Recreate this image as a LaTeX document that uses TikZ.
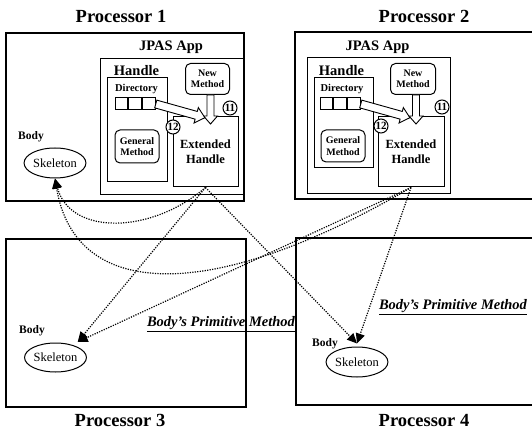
\documentclass[tikz,border=0pt]{standalone}
\usepackage{fontspec}
\setmainfont{Liberation Serif}
\usetikzlibrary{shapes.geometric, arrows.meta, positioning}

\begin{document}
\begin{tikzpicture}[x=1pt, y=-1pt,
    procbox/.style={rectangle, draw, line width=1.2pt, inner sep=0pt},
    box/.style={rectangle, draw, line width=1pt, inner sep=0pt},
    method/.style={rectangle, draw, rounded corners=5pt, line width=1pt, inner sep=0pt, align=center, font=\bfseries\fontsize{10}{11.5}\selectfont},
    cell/.style={rectangle, draw, line width=1pt, minimum width=12.7pt, minimum height=12pt, inner sep=0pt},
    skel/.style={ellipse, draw, line width=1pt, minimum width=59pt, minimum height=29pt, inner sep=0pt, font=\fontsize{12.5}{14}\selectfont},
    num/.style={circle, draw, fill=white, line width=1pt, minimum size=14pt, inner sep=0pt, font=\bfseries\fontsize{11}{11}\selectfont},
    proctitle/.style={font=\bfseries\fontsize{18.5}{20}\selectfont},
    apptitle/.style={font=\bfseries\fontsize{14.5}{16}\selectfont},
    handletxt/.style={font=\bfseries\fontsize{14.5}{16}\selectfont, inner sep=0pt},
    dirtxt/.style={font=\bfseries\fontsize{10.5}{12}\selectfont, inner sep=0pt},
    bodytxt/.style={font=\bfseries\fontsize{11.5}{13}\selectfont, inner sep=0pt},
    primtxt/.style={font=\bfseries\itshape\fontsize{14.5}{16}\selectfont, inner sep=0pt},
    fat/.style={draw, fill=white, line width=0.9pt, line join=miter},
    call/.style={line width=1.2pt, dash pattern=on 1.2pt off 1.3pt, -{Triangle[length=10pt, width=9pt]}}
  ]
  \useasboundingbox (0,0) rectangle (532,435);

  % Processor boxes and titles
  \node[procbox, minimum width=238pt, minimum height=168pt] (p1) at (125,117) {};
  \node[procbox, minimum width=265pt, minimum height=167pt] (p2) at (427.5,115.5) {};
  \node[procbox, minimum width=240pt, minimum height=168pt] (p3) at (126,323) {};
  \node[procbox, minimum width=264pt, minimum height=167pt] (p4) at (428,321.5) {};
  \node[proctitle] (t1) at (121,16) {Processor 1};
  \node[proctitle] (t2) at (424,16) {Processor 2};
  \node[proctitle] (t3) at (120,420) {Processor 3};
  \node[proctitle] (t4) at (424,420) {Processor 4};

  % Processor 1: JPAS App
  \node[box, minimum width=143pt, minimum height=136pt] (jpas1) at (171.5,127) {};
  \node[apptitle] (app1) at (171,47) {JPAS App};
  \node[box, minimum width=60pt, minimum height=104pt] (hd1) at (137,130) {};
  \node[handletxt] (hdt1) at (136.5,71) {Handle};
  \node[dirtxt] (dir1) at (136.5,89) {Directory};
  \node[cell] (d1a) at (121.5,104) {};
  \node[cell, right=0pt of d1a] (d1b) {};
  \node[cell, right=0pt of d1b] (d1c) {};
  \node[method, minimum width=44pt, minimum height=33pt] (gm1) at (137,146.5) {General\\Method};
  \node[method, minimum width=44pt, minimum height=31pt] (nm1) at (207.5,79) {New\\Method};
  \node[box, minimum width=65pt, minimum height=70pt, align=center, font=\bfseries\fontsize{12.5}{15}\selectfont] (eh1) at (205.5,152) {Extended\\Handle};
  \node[bodytxt] (b1) at (31,137) {Body};
  \node[skel, minimum width=60pt, minimum height=30pt] (skel1) at (55,163) {Skeleton};

  % Processor 2: JPAS App
  \node[box, minimum width=143pt, minimum height=136pt] (jpas2) at (378.5,126) {};
  \node[apptitle] (app2) at (377.5,47) {JPAS App};
  \node[box, minimum width=59pt, minimum height=90pt] (hd2) at (343.5,123) {};
  \node[handletxt] (hdt2) at (341.5,71) {Handle};
  \node[dirtxt] (dir2) at (342,89) {Directory};
  \node[cell] (d2a) at (326.5,104) {};
  \node[cell, right=0pt of d2a] (d2b) {};
  \node[cell, right=0pt of d2b] (d2c) {};
  \node[method, minimum width=44pt, minimum height=32pt] (gm2) at (343,146) {General\\Method};
  \node[method, minimum width=45pt, minimum height=31pt] (nm2) at (413,79) {New\\Method};
  \node[box, minimum width=66pt, minimum height=70pt, align=center, font=\bfseries\fontsize{12.5}{15}\selectfont] (eh2) at (411,152) {Extended\\Handle};

  % fat arrows into the extended handles
  \foreach \i in {1,2} {
    \begin{scope}[shift={(nm\i.south)}, xshift=3pt, rotate=-90]
      \draw[fat] (0,-3.5) -- (21,-3.5) -- (21,-7) -- (29,0) -- (21,7) -- (21,3.5) -- (0,3.5) -- cycle;
    \end{scope}
    \begin{scope}[shift={(d\i c.east)}, rotate=-15.6]
      \draw[fat] (0,-4) -- (42,-4) -- (42,-8) -- (51,0) -- (42,8) -- (42,4) -- (0,4) -- cycle;
    \end{scope}
  }
  \node[num] (n11a) at (230,108) {11};
  \node[num] (n12a) at (173,127) {12};
  \node[num] (n11b) at (442,107) {11};
  \node[num] (n12b) at (381,126) {12};

  % Processor 3 and 4 bodies
  \node[bodytxt] (b3) at (32,331) {Body};
  \node[skel] (skel3) at (55.5,357.5) {Skeleton};
  \node[primtxt] (prim3) at (221,324) {\underline{Body's Primitive Method}};
  \node[bodytxt] (b4) at (325,344) {Body};
  \node[skel, minimum width=58pt, minimum height=30pt] (skel4) at (357,362) {Skeleton};
  \node[primtxt] (prim4) at (453,307) {\underline{Body's Primitive Method}};

  % primitive method calls
  \draw[call] (eh1.south) .. controls (150,235) and (70,235) .. (skel1.south);
  \draw[call] (eh2.south) .. controls (210,305) and (75,300) .. (skel1.south);
  \draw[call] (eh1.south) -- ([yshift=5pt]skel3.north east);
  \draw[call] (eh2.south) -- ([yshift=5pt]skel3.north east);
  \draw[call] (eh1.south) -- ([yshift=3pt]skel4.north);
  \draw[call] (eh2.south) -- ([yshift=3pt]skel4.north);

\end{tikzpicture}
\end{document}
